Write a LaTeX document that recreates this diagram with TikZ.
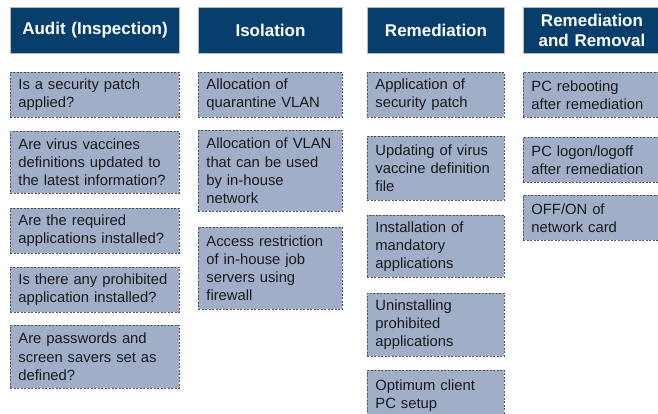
\documentclass[tikz,border=0pt]{standalone}
\usepackage{fontspec}
\setmainfont{Liberation Sans}
\definecolor{hdrblue}{RGB}{7,62,108}
\definecolor{boxfill}{RGB}{161,174,200}
\definecolor{boxline}{RGB}{80,80,80}
\definecolor{txt}{RGB}{25,25,25}
\tikzset{
  hdr/.style={anchor=north west, fill=hdrblue, draw=gray!55, line width=1pt,
    text=white, font=\fontsize{17}{19.5}\selectfont\bfseries, align=center, inner sep=0pt},
  itembox/.style={anchor=north west, fill=boxfill, draw=boxline, line width=0.8pt,
    dash pattern=on 2pt off 1.5pt, text=txt, font=\fontsize{14.8}{18.2}\selectfont,
    align=left, inner xsep=8pt, inner ysep=0pt},
  w1/.style={minimum width=169pt, text width=153pt},
  w2/.style={minimum width=144pt, text width=128pt},
  w3/.style={minimum width=137pt, text width=121pt},
  w4/.style={minimum width=140pt, text width=124pt}
}
\begin{document}
\begin{tikzpicture}[x=1pt,y=-1pt]
\useasboundingbox (0,0) rectangle (658,413);
% headers
\node[hdr, minimum width=169pt, minimum height=46pt, text width=169pt] (h1) at (10,7) {Audit (Inspection)};
\node[hdr, minimum width=144pt, minimum height=46pt, text width=144pt] (h2) at (198,7) {Isolation};
\node[hdr, minimum width=137pt, minimum height=46pt, text width=137pt] (h3) at (367,7) {Remediation};
\node[hdr, minimum width=137pt, minimum height=46pt, text width=137pt] (h4) at (523,7) {Remediation\\and Removal};
% column 1
\node[itembox, w1, minimum height=45pt] (a1) at (10,72) {Is a security patch\\applied?};
\node[itembox, w1, minimum height=62pt] (a2) at (10,131) {Are virus vaccines\\definitions updated to\\the latest information?};
\node[itembox, w1, minimum height=45pt] (a3) at (10,208) {Are the required\\applications installed?};
\node[itembox, w1, minimum height=45pt] (a4) at (10,267) {Is there any prohibited\\application installed?};
\node[itembox, w1, minimum height=63pt] (a5) at (10,325) {Are passwords and\\screen savers set as\\defined?};
% column 2
\node[itembox, w2, minimum height=45pt] (b1) at (198,72) {Allocation of\\quarantine VLAN};
\node[itembox, w2, minimum height=81pt] (b2) at (198,130) {Allocation of VLAN\\that can be used\\by in-house\\network};
\node[itembox, w2, minimum height=82pt] (b3) at (198,227) {Access restriction\\of in-house job\\servers using\\firewall};
% column 3
\node[itembox, w3, minimum height=45pt] (c1) at (367,72) {Application of\\security patch};
\node[itembox, w3, minimum height=64pt] (c2) at (367,136) {Updating of virus\\vaccine definition\\file};
\node[itembox, w3, minimum height=62pt] (c3) at (367,215) {Installation of\\mandatory\\applications};
\node[itembox, w3, minimum height=63pt] (c4) at (367,293) {Uninstalling\\prohibited\\applications};
\node[itembox, w3, minimum height=50pt] (c5) at (367,370) {Optimum client\\PC setup};
% column 4
\node[itembox, w4, minimum height=45pt] (d1) at (523,72) {PC rebooting\\after remediation};
\node[itembox, w4, minimum height=45pt] (d2) at (523,137) {PC logon/logoff\\after remediation};
\node[itembox, w4, minimum height=45pt] (d3) at (523,195) {OFF/ON of\\network card};
\end{tikzpicture}
\end{document}
